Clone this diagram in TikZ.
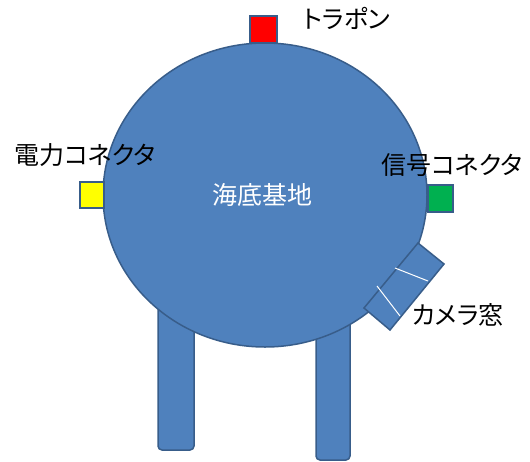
\documentclass[tikz,border=0pt]{standalone}
\usepackage{fontspec}
\setmainfont{Noto Sans CJK JP}[RawFeature={+palt}]
\usetikzlibrary{shapes.geometric}
\definecolor{basefill}{HTML}{4F81BD}
\definecolor{baseline}{HTML}{385D8A}
\definecolor{pred}{HTML}{FF0000}
\definecolor{pyellow}{HTML}{FFFF00}
\definecolor{pgreen}{HTML}{00B050}
\tikzset{
  part/.style={draw=baseline, fill=basefill, line width=1.5pt},
  sq/.style={draw=baseline, line width=1.5pt},
  lbl/.style={inner sep=0pt, font=\fontsize{25}{30}\selectfont},
  winline/.style={draw=white, line width=1pt}
}
\begin{document}
\begin{tikzpicture}[x=1pt, y=-1pt]
\useasboundingbox (0,0) rectangle (530,461);
% legs
\draw[part, rounded corners=4pt] (158,280) rectangle (194,450);
\draw[part, rounded corners=4pt] (316,280) rectangle (350,460);
% body
\node[part, ellipse, minimum width=324pt, minimum height=304pt, inner sep=0pt] (base) at (265,195) {};
% camera window
\coordinate (ca) at (418,243);
\coordinate (cb) at (444,264);
\coordinate (cc) at (390,330);
\coordinate (cd) at (364,308);
\draw[part, line join=miter] (ca) -- (cb) -- (cc) -- (cd) -- cycle;
\coordinate (w1a) at (395,268);
\coordinate (w1b) at (428,281);
\coordinate (w2a) at (377,286);
\coordinate (w2b) at (400,316);
\draw[winline] (w1a) -- (w1b);
\draw[winline] (w2a) -- (w2b);
% connectors
\node[sq, fill=pred, minimum width=27pt, minimum height=27pt, inner sep=0pt] (tp) at (263.5,29.5) {};
\node[sq, fill=pyellow, minimum width=24pt, minimum height=26pt, inner sep=0pt] (pc) at (92,195) {};
\node[sq, fill=pgreen, minimum width=25pt, minimum height=27pt, inner sep=0pt] (sc) at (440.5,198.5) {};
% labels
\node[lbl] (ltp) at (347,18) {トラポン};
\node[lbl] (lpc) at (85,155) {電力コネクタ};
\node[lbl] (lsc) at (452,165) {信号コネクタ};
\node[lbl, text=white] (lbase) at (262,195) {海底基地};
\node[lbl] (lcam) at (458,315) {カメラ窓};
\end{tikzpicture}
\end{document}
